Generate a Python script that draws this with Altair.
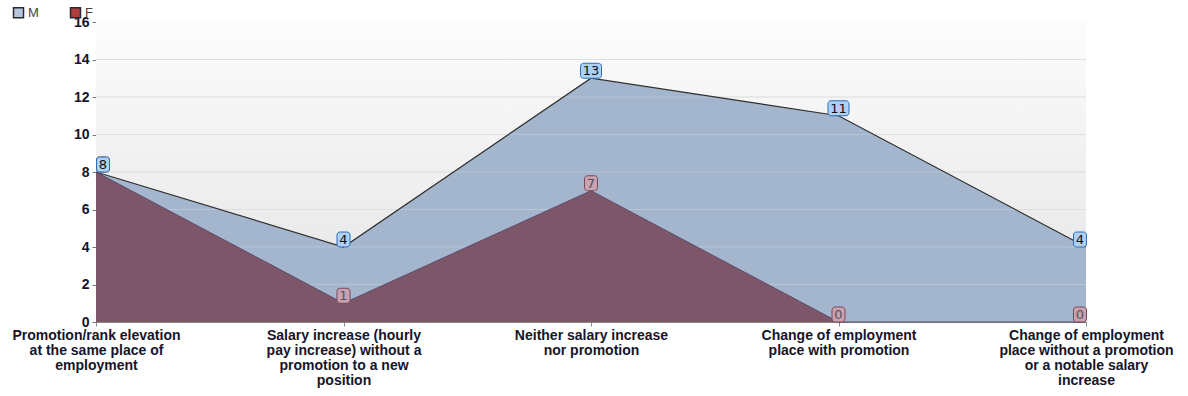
import altair as alt
import pandas as pd

# Outcomes after the training period, by gender
categories = [
    "Promotion/rank elevation\nat the same place of\nemployment",
    "Salary increase (hourly\npay increase) without a\npromotion to a new\nposition",
    "Neither salary increase\nnor promotion",
    "Change of employment\nplace with promotion",
    "Change of employment\nplace without a promotion\nor a notable salary\nincrease",
]
male = [8, 4, 13, 11, 4]
female = [8, 1, 7, 0, 0]
series_names = ["M", "F"]
y_ticks = [0, 2, 4, 6, 8, 10, 12, 14, 16]

rows = []
for i, cat in enumerate(categories):
    rows.append({"cat": cat, "idx": i, "series": "M", "value": male[i], "label": str(male[i])})
    rows.append({"cat": cat, "idx": i, "series": "F", "value": female[i], "label": str(female[i])})
df = pd.DataFrame(rows)

W, H = 990, 300
FONT = "Liberation Sans"
y_scale = alt.Scale(domain=[0, 16], nice=False)

x_enc = alt.X(
    "cat:N",
    sort=categories,
    scale=alt.Scale(type="point", padding=0),
    axis=alt.Axis(
        title=None,
        labelExpr="split(datum.label, '\\n')",
        labelAngle=0,
        labelAlign="center",
        labelBaseline="top",
        labelFont=FONT,
        labelFontWeight="bold",
        labelFontSize=14,
        labelColor="#15152a",
        labelLineHeight=15,
        labelPadding=2,
        labelLimit=400,
        domainColor="#888888",
        tickColor="#888888",
        tickSize=4,
        grid=False,
    ),
)
y_axis = alt.Axis(
    title=None,
    values=y_ticks,
    format="d",
    labelFont=FONT,
    labelFontWeight="bold",
    labelFontSize=14,
    labelColor="#15152a",
    labelPadding=3,
    domainColor="#777777",
    tickColor="#777777",
    tickSize=4,
    grid=False,
)
y_enc = alt.Y("value:Q", scale=y_scale, axis=y_axis)

base = alt.Chart(df)

# Plot background: soft vertical gradient
backdrop = alt.Chart(pd.DataFrame({"k": [0]})).mark_rect(
    color=alt.LinearGradient(
        gradient="linear",
        stops=[
            alt.GradientStop(color="#fcfcfc", offset=0),
            alt.GradientStop(color="#e4e4e4", offset=1),
        ],
        x1=0, x2=0, y1=0, y2=1,
    )
).encode(x=alt.value(0), x2=alt.value(W), y=alt.value(0), y2=alt.value(H))

grid_df = pd.DataFrame({"value": y_ticks[1:-1]})
grid = alt.Chart(grid_df).mark_rule(color="#d8d8d8", strokeWidth=1).encode(y=y_enc)
grid_overlay = alt.Chart(grid_df).mark_rule(color="white", opacity=0.2, strokeWidth=1).encode(y=y_enc)

area_m = base.transform_filter(alt.datum.series == "M").mark_area(color="#a4b6cd", opacity=1).encode(x=x_enc, y=y_enc)
area_f = base.transform_filter(alt.datum.series == "F").mark_area(color="#7d5769", opacity=1).encode(x=x_enc, y=y_enc)
line_m = base.transform_filter(alt.datum.series == "M").mark_line(color="#2e2e2e", strokeWidth=1.2).encode(x=x_enc, y=y_enc)
line_f = base.transform_filter(alt.datum.series == "F").mark_line(color="#5f4a6a", strokeWidth=1).encode(x=x_enc, y=y_enc)

# Invisible layer that only supplies the legend
legend_layer = base.mark_point(opacity=0, filled=True).encode(
    x=x_enc,
    y=y_enc,
    fill=alt.Fill(
        "series:N",
        scale=alt.Scale(domain=series_names, range=["#b3c6de", "#b03e3e"]),
        legend=alt.Legend(
            title=None,
            orient="none",
            legendX=-84,
            legendY=-16,
            direction="horizontal",
            symbolType="square",
            symbolSize=100,
            symbolOpacity=1,
            symbolStrokeColor="#2a2a2a",
            symbolStrokeWidth=1.5,
            labelFont=FONT,
            labelFontSize=13,
            labelColor="#444444",
            labelOffset=3,
            columnPadding=28,
        ),
    ),
)


def value_labels(series, fill, stroke, text_color):
    layers = []
    groups = [
        ("datum.idx == 0", 7),
        ("datum.idx > 0 && datum.idx < 4", 0),
        ("datum.idx == 4", -6),
    ]
    for cond, dx in groups:
        for digits, w in [(1, 13), (2, 21)]:
            sub = (
                base.transform_filter(alt.datum.series == series)
                .transform_filter(cond)
                .transform_filter(f"length(datum.label) == {digits}")
            )
            box = sub.mark_rect(
                width=w, height=15, yOffset=-7.5, xOffset=dx,
                cornerRadius=3, fill=fill, stroke=stroke, strokeWidth=1,
            ).encode(x=x_enc, y=y_enc)
            txt = sub.mark_text(
                font="DejaVu Sans", fontSize=13, color=text_color, baseline="middle", align="center",
                yOffset=-7, xOffset=dx,
            ).encode(x=x_enc, y=y_enc, text="label:N")
            layers += [box, txt]
    return layers


chart = alt.layer(
    backdrop,
    grid,
    area_m,
    grid_overlay,
    area_f,
    line_m,
    line_f,
    legend_layer,
    *value_labels("F", "#c9a1b1", "#7a4a5c", "#555555"),
    *value_labels("M", "#acd0f6", "#2f6db5", "#111111"),
).properties(
    width=W,
    height=H,
    autosize=alt.AutoSizeParams(type="none"),
    padding={"left": 96, "top": 22, "right": 102, "bottom": 74},
    background="white",
).configure_view(stroke=None)

chart.save("out.html", embed_options={"renderer": "svg", "actions": False})
